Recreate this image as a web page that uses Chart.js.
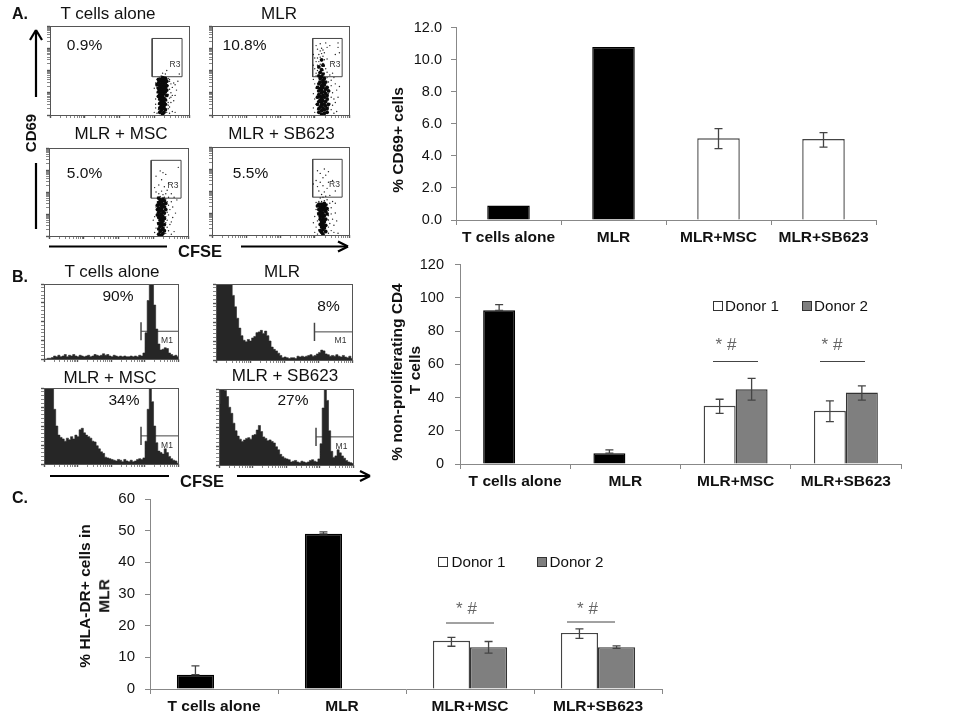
<!DOCTYPE html>
<html>
<head>
<meta charset="utf-8">
<title>CD69, CFSE and HLA-DR in MLR</title>
<script src="https://cdn.jsdelivr.net/npm/chart.js@4/dist/chart.umd.js"></script>
<style>
  html, body { margin: 0; padding: 0; background: #fff; }
  #page { position: relative; width: 960px; height: 720px; overflow: hidden; font-family: "Liberation Sans", Arial, sans-serif; color: #111; filter: blur(0.35px); }
  #page canvas { position: absolute; }
  #page svg { position: absolute; left: 0; top: 0; }
  .txt { position: absolute; white-space: nowrap; transform: translate(-50%, -50%); line-height: 1; }
  .box { position: absolute; box-sizing: border-box; border: 1px solid #333; }
</style>
</head>
<body>
<div id="page"></div>
<script>
// bar charts
const barCategories = ['T cells alone', 'MLR', 'MLR+MSC', 'MLR+SB623'];
const cd69Values = [0.9, 10.8, 5.1, 5.05];
const cd69Low = [null, null, 4.45, 4.55];
const cd69High = [null, null, 5.7, 5.45];

// lower whiskers of the black bars don't show, so they stop at the bar top
const prolifDonor1 = [92.5, 6.5, 35, 32];
const prolifDonor2 = [null, null, 45, 43];
const prolifDonor1Low = [92.5, 6.5, 30.5, 25.5];
const prolifDonor1High = [96, 8.5, 39, 38];
const prolifDonor2Low = [null, null, 38.5, 38.5];
const prolifDonor2High = [null, null, 51.5, 47];

const hlaDonor1 = [4.5, 49, 15.2, 17.7];
const hlaDonor2 = [null, null, 13.2, 13.2];
const hlaDonor1Low = [4.5, 49, 13.5, 16];
const hlaDonor1High = [7.3, 49.6, 16.3, 19];
const hlaDonor2Low = [null, null, 11.3, 12.8];
const hlaDonor2High = [null, null, 15, 13.6];

// histograms, 64 bins over the CFSE axis, % of full height
const histTCells = [0,0,1,1,2,4,3,5,3,4,6,3,5,4,6,4,3,5,4,3,4,5,3,4,6,5,4,5,7,5,6,4,3,5,4,3,4,3,4,3,3,4,3,4,3,5,4,8,35,78,100,100,72,40,20,12,13,15,14,8,6,4,5,3];
const histMlr = [100,100,100,100,100,100,100,100,85,70,55,42,32,26,24,27,25,29,31,36,37,39,35,38,32,25,17,14,12,9,6,3,4,3,2,3,3,2,5,4,5,4,5,6,7,5,6,8,10,13,12,8,7,5,6,5,7,5,4,6,4,3,5,2];
const histMsc = [100,100,100,100,100,72,50,38,35,33,30,34,32,36,33,38,36,45,47,41,38,36,34,30,29,24,20,16,14,9,8,7,6,5,4,6,5,3,6,4,3,5,3,4,6,7,6,8,30,72,100,82,50,28,17,15,13,20,15,10,7,5,4,1];
const histSb623 = [80,100,100,98,90,76,68,55,45,38,34,31,33,35,36,34,39,40,46,52,44,37,35,32,33,31,29,24,20,14,11,9,8,7,4,5,6,4,3,5,4,3,4,6,7,5,4,8,28,75,100,85,45,18,10,12,20,16,12,9,6,4,3,2];
const markerX = [72.4, 72.4];
const markerY = [25, 49];
const markerLineX = [72.4, 100];
const markerLineY = [37, 37];

// dot plots, x and y in % of the axis
const gateX = [73.5, 95, 95, 73.5, 73.5];
const gateY = [43, 43, 86, 86, 43];

const dotsTCellsCore = [[81,1],[79,3],[82,3],[80,5],[83,6],[81,7],[79,8],[82,9],[80,10],[81,12],[83,12],[79,13],[82,14],[80,15],[81,17],[83,17],[79,18],[82,19],[80,20],[78,21],[81,22],[84,22],[79,23],[82,24],[80,25],[78,26],[83,26],[81,27],[79,28],[84,28],[82,29],[80,30],[78,30],[83,31],[81,32],[79,33],[84,33],[77,34],[82,34],[80,35],[83,36],[78,36],[81,37],[79,38],[84,38],[82,39],[80,40],[81,42],[83,41],[78,40]];
const dotsTCellsSparse = [[75,3],[76,8],[77,2],[78,12],[76,18],[77,25],[75,30],[78,33],[76,36],[77,40],[78,6],[84,3],[85,7],[86,2],[88,4],[90,3],[85,11],[87,14],[84,16],[86,19],[89,16],[85,23],[87,25],[84,27],[90,22],[86,29],[88,31],[85,33],[91,28],[87,35],[84,37],[89,36],[92,38],[86,40],[85,41],[82,43],[80,44],[83,46],[81,47],[84,50],[93,46],[86,38],[83,14],[84,21],[78,22],[79,42],[78,37],[78,28],[84,32],[86,9],[87,20],[85,14],[83,6],[79,7],[78,17],[84,40],[88,22],[90,34],[76,12],[77,31]];

const dotsMlrCore = [[80,1],[82,2],[78,3],[84,3],[80,5],[82,6],[78,7],[84,7],[81,8],[79,9],[83,10],[80,11],[77,12],[82,12],[85,12],[80,14],[78,15],[83,15],[81,16],[79,17],[84,18],[80,19],[82,20],[77,20],[79,21],[81,22],[84,22],[78,23],[83,24],[80,25],[82,26],[78,27],[85,27],[80,28],[83,29],[79,30],[81,31],[77,31],[84,31],[80,33],[82,34],[78,35],[81,36],[83,37],[79,37],[81,39],[79,41],[82,41],[80,43],[78,44],[81,46],[79,48],[80,51],[78,54],[81,56],[80,62]];
const dotsMlrSparse = [[75,3],[74,8],[76,12],[75,18],[74,24],[76,30],[75,35],[74,40],[76,44],[77,6],[77,15],[77,27],[78,38],[85,3],[87,6],[89,2],[91,4],[85,9],[86,13],[88,11],[90,14],[85,17],[87,20],[89,18],[92,20],[85,24],[86,27],[88,25],[91,28],[85,31],[87,33],[90,35],[93,32],[85,37],[87,39],[89,42],[84,42],[86,45],[84,48],[88,47],[76,47],[78,47],[82,47],[77,50],[79,49],[81,50],[83,52],[75,52],[78,53],[80,52],[82,55],[74,56],[77,56],[79,57],[81,58],[76,60],[78,60],[80,61],[82,62],[84,63],[75,64],[77,64],[79,65],[81,66],[78,68],[80,69],[82,70],[79,72],[81,73],[77,74],[80,75],[84,76],[76,78],[86,78],[79,80],[83,81],[74,68],[92,81],[92,76],[90,68],[88,60],[93,70]];

const dotsMscCore = [[81,1],[79,2],[82,3],[80,5],[83,6],[81,7],[79,8],[82,9],[80,11],[81,12],[83,13],[79,14],[81,15],[82,17],[80,18],[81,20],[83,20],[79,21],[82,22],[80,23],[78,24],[81,25],[83,26],[79,27],[82,28],[80,29],[78,30],[84,30],[81,31],[79,32],[83,33],[81,34],[78,35],[80,36],[82,36],[84,37],[79,38],[81,39],[83,40],[80,41],[82,42],[79,43]];
const dotsMscSparse = [[76,4],[78,2],[77,9],[78,15],[76,22],[78,27],[77,33],[78,39],[75,18],[84,3],[86,6],[88,2],[90,5],[85,10],[87,13],[85,18],[88,16],[84,22],[86,24],[89,21],[85,27],[87,30],[91,26],[84,33],[86,35],[89,33],[85,39],[88,39],[84,42],[86,44],[92,41],[83,44],[80,45],[78,44],[82,47],[79,48],[84,48],[77,50],[81,51],[85,52],[76,55],[83,56],[79,58],[86,60],[81,64],[77,68],[84,70],[82,72],[80,74],[93,78],[90,44],[88,48],[79,37],[84,15],[83,6]];

const dotsSb623Core = [[81,1],[80,3],[83,4],[79,5],[81,6],[82,8],[80,9],[81,11],[83,11],[79,12],[81,13],[80,15],[82,15],[81,17],[79,18],[83,18],[81,20],[79,21],[82,22],[80,23],[78,24],[84,24],[81,25],[79,26],[83,27],[80,28],[78,29],[82,29],[84,30],[80,31],[79,32],[82,32],[81,33],[77,33],[83,34],[80,35],[78,35],[82,36]];
const dotsSb623Sparse = [[75,3],[77,1],[76,9],[78,6],[74,14],[77,16],[75,21],[77,25],[76,29],[78,34],[76,37],[85,2],[87,5],[89,3],[92,2],[85,9],[86,13],[89,11],[85,17],[88,18],[91,16],[85,22],[87,24],[90,25],[85,28],[87,31],[84,35],[86,36],[88,38],[90,36],[78,38],[80,38],[82,39],[84,40],[79,42],[81,43],[83,44],[80,46],[82,49],[78,50],[84,53],[77,55],[81,56],[74,58],[79,60],[85,60],[76,62],[88,62],[81,65],[83,68],[79,70],[85,72],[82,75],[77,73],[90,50],[86,45]];

const page = document.getElementById('page');
const sans = '"Liberation Sans", Arial, sans-serif';

function addCanvas(left, top, width, height){
  const c = document.createElement('canvas');
  c.width = width;
  c.height = height;
  c.style.left = left + 'px';
  c.style.top = top + 'px';
  c.style.width = width + 'px';
  c.style.height = height + 'px';
  page.appendChild(c);
  return c.getContext('2d');
}

function addText(text, x, y, size, opts){
  opts = opts || {};
  const d = document.createElement('div');
  d.className = 'txt';
  d.textContent = text;
  d.style.left = x + 'px';
  d.style.top = y + 'px';
  d.style.fontSize = size + 'px';
  if (opts.bold) d.style.fontWeight = 'bold';
  if (opts.color) d.style.color = opts.color;
  if (opts.rotate) d.style.transform = 'translate(-50%, -50%) rotate(-90deg)';
  page.appendChild(d);
}

function addBox(x, y, size, color){
  const d = document.createElement('div');
  d.className = 'box';
  d.style.left = x + 'px';
  d.style.top = y + 'px';
  d.style.width = size + 'px';
  d.style.height = size + 'px';
  d.style.background = color;
  page.appendChild(d);
}

const framePlugin = {
  id: 'frame',
  afterDraw(chart){
    const a = chart.chartArea, ctx = chart.ctx;
    ctx.save();
    ctx.strokeStyle = '#555';
    ctx.lineWidth = 1;
    ctx.strokeRect(Math.round(a.left) + 0.5, Math.round(a.top) + 0.5, Math.round(a.right - a.left), Math.round(a.bottom - a.top));
    ctx.restore();
  }
};

const errorBarPlugin = {
  id: 'errorBars',
  afterDatasetsDraw(chart, args, opts){
    const ctx = chart.ctx, y = chart.scales.y;
    ctx.save();
    ctx.strokeStyle = '#444';
    ctx.lineWidth = 1.3;
    opts.series.forEach(function(s, d){
      chart.getDatasetMeta(d).data.forEach(function(bar, i){
        if (s.low[i] === null) return;
        const x = bar.x, lo = y.getPixelForValue(s.low[i]), hi = y.getPixelForValue(s.high[i]);
        ctx.beginPath();
        ctx.moveTo(x, lo); ctx.lineTo(x, hi);
        ctx.moveTo(x - 4, lo); ctx.lineTo(x + 4, lo);
        ctx.moveTo(x - 4, hi); ctx.lineTo(x + 4, hi);
        ctx.stroke();
      });
    });
    ctx.restore();
  }
};

// log decades on a 0-100 axis, 4 decades
const logTicks = [];
for (let dec = 0; dec < 4; dec++){
  for (let m = 1; m < 10; m++) logTicks.push((dec + Math.log10(m)) * 25);
}
logTicks.push(100);

function flowAxis(ticks, thickness, side){
  const axis = {
    type: 'linear', min: 0, max: 100,
    border: { display: false },
    grid: {
      drawOnChartArea: false, tickLength: 3,
      tickColor: '#555', tickWidth: function(c){ return c.tick && c.tick.value % 25 === 0 ? 1.4 : 0.7; }
    },
    ticks: { display: false },
    afterBuildTicks: function(s){ s.ticks = ticks.map(function(v){ return { value: v }; }); }
  };
  axis.afterFit = side === 'y' ? function(s){ s.width = thickness; } : function(s){ s.height = thickness; };
  return axis;
}

function flowOptions(yTicks){
  return {
    responsive: false,
    animation: false,
    layout: { padding: { top: 2, right: 2 } },
    events: [],
    plugins: { legend: { display: false }, tooltip: { enabled: false } },
    scales: { x: flowAxis(logTicks, 5, 'x'), y: flowAxis(yTicks, 5, 'y') }
  };
}

function pairLine(xs, ys, width){
  return {
    type: 'line',
    data: xs.map(function(x, i){ return { x: x, y: ys[i] }; }),
    borderColor: '#444', borderWidth: width, pointRadius: 0, fill: false
  };
}

function toPoints(list){
  return list.map(function(p){ return { x: p[0], y: p[1] }; });
}

function dotPlot(left, top, width, height, core, sparse){
  new Chart(addCanvas(left - 5, top - 2, width + 7, height + 7), {
    type: 'scatter',
    data: { datasets: [
      { data: toPoints(core), pointRadius: 1.9, pointBackgroundColor: '#0a0a0a', pointBorderWidth: 0 },
      { data: toPoints(sparse), pointRadius: 0.7, pointBackgroundColor: '#222', pointBorderWidth: 0 },
      pairLine(gateX, gateY, 1)
    ] },
    options: flowOptions(logTicks),
    plugins: [framePlugin]
  });
}

const histYTicks = [];
for (let t = 0; t <= 100; t += 5) histYTicks.push(t);

function histPlot(left, top, width, height, bins){
  const binStep = 100 / (bins.length - 1);
  new Chart(addCanvas(left - 5, top - 2, width + 7, height + 7), {
    type: 'line',
    data: { datasets: [
      {
        data: bins.map(function(v, i){ return { x: i * binStep, y: v }; }),
        stepped: 'middle', fill: 'origin', backgroundColor: '#262626',
        borderColor: '#262626', borderWidth: 0.6, pointRadius: 0
      },
      pairLine(markerX, markerY, 1.5),
      pairLine(markerLineX, markerLineY, 1)
    ] },
    options: flowOptions(histYTicks),
    plugins: [framePlugin]
  });
}

function barChart(box, yMax, yStep, decimals, datasets, errSeries, barPct, catPct, tickSize){
  new Chart(addCanvas(box.left, box.top, box.width, box.height), {
    type: 'bar',
    data: { labels: barCategories, datasets: datasets },
    options: {
      responsive: false,
      animation: false,
      events: [],
      layout: { padding: { top: box.padTop, right: box.padRight } },
      datasets: { bar: { barPercentage: barPct, categoryPercentage: catPct } },
      plugins: { legend: { display: false }, tooltip: { enabled: false }, errorBars: { series: errSeries } },
      scales: {
        x: {
          grid: { offset: true, drawOnChartArea: false, tickLength: 5, color: '#888' },
          border: { color: '#888' },
          ticks: { color: '#111', font: { family: sans, size: 15.5, weight: 'bold' }, padding: 3, maxRotation: 0, autoSkip: false },
          afterFit: function(s){ s.height = box.xHeight; }
        },
        y: {
          min: 0, max: yMax,
          grid: { drawOnChartArea: false, tickLength: 5, color: '#888' },
          border: { color: '#888' },
          ticks: {
            stepSize: yStep, color: '#111', padding: box.tickPad,
            font: { family: sans, size: tickSize },
            callback: function(v){ return v.toFixed(decimals); }
          },
          afterFit: function(s){ s.width = box.yWidth; }
        }
      }
    },
    plugins: [errorBarPlugin]
  });
}

const series1Fill = ['#000', '#000', '#fff', '#fff'];
const series1Edge = ['#000', '#000', '#444', '#444'];

// panel A
dotPlot(50, 24, 141, 91, dotsTCellsCore, dotsTCellsSparse);
dotPlot(212, 24, 139, 91, dotsMlrCore, dotsMlrSparse);
dotPlot(49, 146, 141, 90, dotsMscCore, dotsMscSparse);
dotPlot(212, 145, 139, 90, dotsSb623Core, dotsSb623Sparse);

barChart(
  { left: 396, top: 10, width: 500, height: 240, yWidth: 60, xHeight: 30, padTop: 17, padRight: 20, tickPad: 9 },
  12, 2, 1,
  [{ data: cd69Values, backgroundColor: series1Fill, borderColor: series1Edge, borderWidth: 1.4 }],
  [{ low: cd69Low, high: cd69High }],
  0.405, 1, 14.5
);

// panel B
histPlot(44, 284, 134, 75, histTCells);
histPlot(216, 284, 136, 76, histMlr);
histPlot(44, 388, 134, 76, histMsc);
histPlot(219, 389, 134, 76, histSb623);

barChart(
  { left: 400, top: 245, width: 520, height: 250, yWidth: 60, xHeight: 31, padTop: 15, padRight: 19, tickPad: 11 },
  120, 20, 0,
  [
    { data: prolifDonor1, backgroundColor: series1Fill, borderColor: series1Edge, borderWidth: 1.4 },
    { data: prolifDonor2, backgroundColor: '#7f7f7f', borderColor: '#333', borderWidth: 1.4 }
  ],
  [{ low: prolifDonor1Low, high: prolifDonor1High }, { low: prolifDonor2Low, high: prolifDonor2High }],
  1, 0.58, 14.5
);

// panel C
barChart(
  { left: 100, top: 480, width: 580, height: 240, yWidth: 50, xHeight: 31, padTop: 16, padRight: 18, tickPad: 10 },
  60, 10, 0,
  [
    { data: hlaDonor1, backgroundColor: series1Fill, borderColor: series1Edge, borderWidth: 1.4 },
    { data: hlaDonor2, backgroundColor: '#7f7f7f', borderColor: '#333', borderWidth: 1.4 }
  ],
  [{ low: hlaDonor1Low, high: hlaDonor1High }, { low: hlaDonor2Low, high: hlaDonor2High }],
  1, 0.58, 15
);

// panel letters, plot titles, percentages, gate names
[['A.', 20, 14], ['B.', 20, 277], ['C.', 20, 498]].forEach(function(t){ addText(t[0], t[1], t[2], 16, { bold: true }); });

[['T cells alone', 108, 13], ['MLR', 279, 13], ['MLR + MSC', 121, 133], ['MLR + SB623', 281.5, 133],
 ['T cells alone', 112, 271], ['MLR', 282, 271], ['MLR + MSC', 110, 377], ['MLR + SB623', 285, 375]
].forEach(function(t){ addText(t[0], t[1], t[2], 17); });

[['0.9%', 84.5, 45], ['10.8%', 244.5, 45], ['5.0%', 84.5, 173], ['5.5%', 250.5, 173],
 ['90%', 118, 296], ['8%', 328.5, 306], ['34%', 124, 400], ['27%', 293, 400]
].forEach(function(t){ addText(t[0], t[1], t[2], 15.5); });

[['R3', 175, 64], ['R3', 335, 64], ['R3', 173, 185], ['R3', 334.5, 184],
 ['M1', 167, 340], ['M1', 340.5, 340], ['M1', 167, 445], ['M1', 341.5, 446]
].forEach(function(t){ addText(t[0], t[1], t[2], 8.5, { color: '#333' }); });

addText('CD69', 30, 133, 15, { bold: true, rotate: true });
addText('CFSE', 200, 251, 16.5, { bold: true });
addText('CFSE', 202, 481, 16.5, { bold: true });

// axis titles of the bar charts
addText('% CD69+ cells', 398, 140, 15.5, { bold: true, rotate: true });
addText('% non-proliferating CD4', 397, 372, 15.5, { bold: true, rotate: true });
addText('T cells', 415, 370, 15.5, { bold: true, rotate: true });
addText('% HLA-DR+ cells in', 85, 596, 15.5, { bold: true, rotate: true });
addText('MLR', 104, 596, 15.5, { bold: true, rotate: true });

// legends
addBox(713, 301, 10, '#fff');
addText('Donor 1', 752, 306, 15.2);
addBox(802, 301, 10, '#7f7f7f');
addText('Donor 2', 841, 306, 15.2);
addBox(438, 557, 10, '#fff');
addText('Donor 1', 478.5, 562, 15.2);
addBox(537, 557, 10, '#7f7f7f');
addText('Donor 2', 576.5, 562, 15.2);

// significance marks
[['* #', 726, 344], ['* #', 832, 344], ['* #', 466.5, 608], ['* #', 587.5, 608]].forEach(function(t){
  addText(t[0], t[1], t[2], 17, { color: '#666' });
});

// arrows and brackets
const svgNs = 'http://www.w3.org/2000/svg';
const svg = document.createElementNS(svgNs, 'svg');
svg.setAttribute('width', 960);
svg.setAttribute('height', 720);
page.appendChild(svg);

function segment(x1, y1, x2, y2, width, color){
  const l = document.createElementNS(svgNs, 'line');
  l.setAttribute('x1', x1); l.setAttribute('y1', y1);
  l.setAttribute('x2', x2); l.setAttribute('y2', y2);
  l.setAttribute('stroke', color); l.setAttribute('stroke-width', width);
  svg.appendChild(l);
}

segment(36, 31, 36, 97, 2.2, '#000');
segment(36, 30, 30, 40, 2.2, '#000');
segment(36, 30, 42, 40, 2.2, '#000');
segment(36, 163, 36, 229, 2.2, '#000');
segment(49, 246.5, 167, 246.5, 2.2, '#000');
segment(241, 246.5, 347, 246.5, 2.2, '#000');
segment(348, 246.5, 338, 241.5, 2.2, '#000');
segment(348, 246.5, 338, 251.5, 2.2, '#000');
segment(50, 476, 169, 476, 2.2, '#000');
segment(237, 476, 369, 476, 2.2, '#000');
segment(370, 476, 360, 471, 2.2, '#000');
segment(370, 476, 360, 481, 2.2, '#000');

segment(713, 361.5, 758, 361.5, 1, '#444');
segment(820, 361.5, 865, 361.5, 1, '#444');
segment(446, 623, 494, 623, 1, '#444');
segment(567, 622, 615, 622, 1, '#444');
</script>
</body>
</html>
